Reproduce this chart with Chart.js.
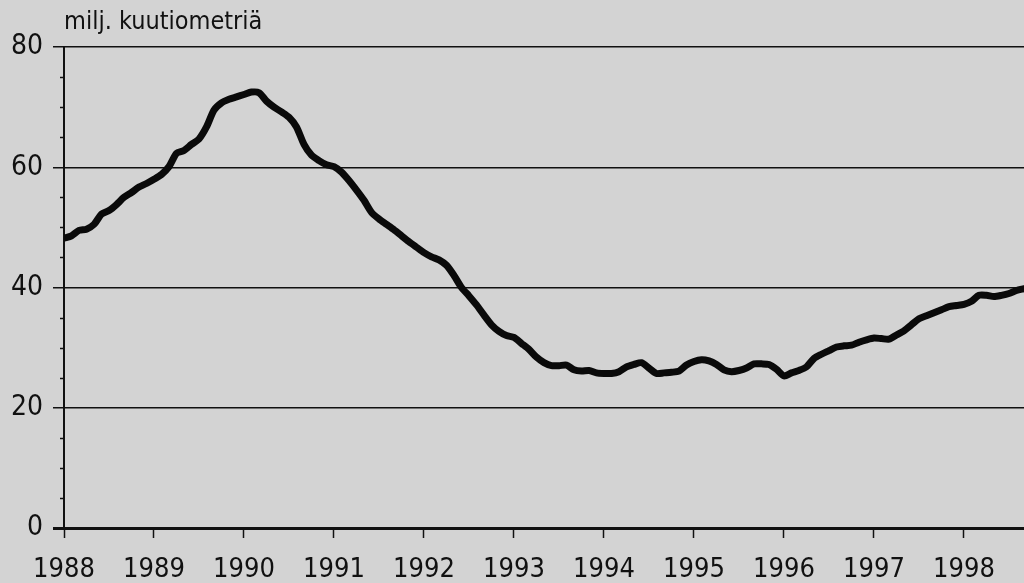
<!DOCTYPE html>
<html>
<head>
<meta charset="utf-8">
<script src="https://cdn.jsdelivr.net/npm/chart.js@4/dist/chart.umd.min.js"></script>
<style>
  html, body { margin: 0; padding: 0; background: #d3d3d3; }
  #wrap { width: 1024px; height: 583px; position: relative; }
</style>
</head>
<body>
<div id="wrap"><canvas id="c"></canvas></div>
<script>
// kuukausittainen sarja, tammikuu 1988 -> syyskuu 1998
const startYear = 1988;
const values = [
  48.2, 48.6, 49.5, 49.7, 50.5, 52.2, 52.8, 53.8, 55.0, 55.8, 56.7, 57.3,
  58.0, 58.8, 60.1, 62.3, 62.8, 63.8, 64.7, 66.7, 69.5, 70.7, 71.3, 71.7,
  72.1, 72.5, 72.4, 71.0, 70.0, 69.2, 68.3, 66.7, 63.8, 62.0, 61.1, 60.4,
  60.1, 59.2, 57.8, 56.2, 54.5, 52.5, 51.4, 50.5, 49.6, 48.6, 47.6, 46.7,
  45.8, 45.1, 44.6, 43.7, 42.0, 40.0, 38.6, 37.1, 35.4, 33.8, 32.7, 32.0,
  31.7, 30.7, 29.7, 28.4, 27.5, 27.0, 27.0, 27.1, 26.3, 26.1, 26.2, 25.8,
  25.7, 25.7, 26.0, 26.8, 27.2, 27.5, 26.6, 25.7, 25.8, 25.9, 26.1, 27.1,
  27.7, 28.0, 27.8, 27.2, 26.3, 26.0, 26.2, 26.6, 27.3, 27.3, 27.2, 26.4,
  25.3, 25.8, 26.2, 26.8, 28.2, 28.9, 29.5, 30.1, 30.3, 30.4, 30.9, 31.3,
  31.6, 31.5, 31.4, 32.1, 32.8, 33.8, 34.8, 35.3, 35.8, 36.3, 36.8, 37.0,
  37.2, 37.7, 38.7, 38.7, 38.5, 38.7, 39.0, 39.5, 39.8
];
const xYears = [1988, 1989, 1990, 1991, 1992, 1993, 1994, 1995, 1996, 1997, 1998];
const yTicks = [0, 20, 40, 60, 80];
const yMinor = [5, 10, 15, 25, 30, 35, 45, 50, 55, 65, 70, 75];
const unitLabel = "milj. kuutiometriä";

const FONT = "'Liberation Sans Narrow', 'DejaVu Sans Condensed', sans-serif";

const points = values.map((v, i) => ({ x: startYear + i / 12, y: v }));

// pienet väliviivat y-akselille
const minorTicks = {
  id: "minorTicks",
  afterDraw(chart) {
    const { ctx, scales: { y }, chartArea } = chart;
    ctx.save();
    ctx.strokeStyle = "#111";
    ctx.lineWidth = 1.5;
    yMinor.forEach(v => {
      const py = Math.round(y.getPixelForValue(v)) + 0.5;
      ctx.beginPath();
      ctx.moveTo(chartArea.left - 4, py);
      ctx.lineTo(chartArea.left, py);
      ctx.stroke();
    });
    ctx.restore();
  }
};

new Chart(document.getElementById("c"), {
  type: "line",
  data: {
    datasets: [{
      data: points,
      borderColor: "#0a0a0a",
      borderWidth: 7,
      pointRadius: 0,
      tension: 0.25,
      borderCapStyle: "round",
      borderJoinStyle: "round"
    }]
  },
  options: {
    responsive: true,
    maintainAspectRatio: false,
    animation: false,
    layout: { padding: { top: 0, right: 0, left: 4, bottom: 0 } },
    plugins: {
      legend: { display: false },
      tooltip: { enabled: false },
      title: {
        display: true,
        text: unitLabel,
        align: "start",
        fullSize: false,
        color: "#111",
        font: { family: FONT, size: 25, weight: "normal" },
        padding: { top: 7, bottom: 10 }
      }
    },
    scales: {
      x: {
        type: "linear",
        min: startYear,
        max: startYear + 128 / 12,
        afterFit: s => { s.height = 55; },
        afterBuildTicks: s => { s.ticks = xYears.map(v => ({ value: v })); },
        ticks: {
          autoSkip: false,
          maxRotation: 0,
          color: "#111",
          padding: 16,
          font: { family: FONT, size: 27 },
          callback: v => String(v)
        },
        grid: {
          drawOnChartArea: false,
          drawTicks: true,
          tickLength: 10,
          tickColor: "#111",
          tickWidth: 1.5
        },
        border: { display: true, color: "#111", width: 3 }
      },
      y: {
        min: 0,
        max: 80,
        afterFit: s => { s.width = 60; },
        afterBuildTicks: s => { s.ticks = yTicks.map(v => ({ value: v })); },
        ticks: {
          color: "#111",
          padding: 10,
          font: { family: FONT, size: 28 },
          callback: v => String(v)
        },
        grid: {
          color: "#111",
          lineWidth: c => (c.tick && c.tick.value === 0 ? 3 : 1.5),
          tickLength: 11,
          tickColor: "#111"
        },
        border: { display: true, color: "#111", width: 2 }
      }
    }
  },
  plugins: [minorTicks]
});
</script>
</body>
</html>
